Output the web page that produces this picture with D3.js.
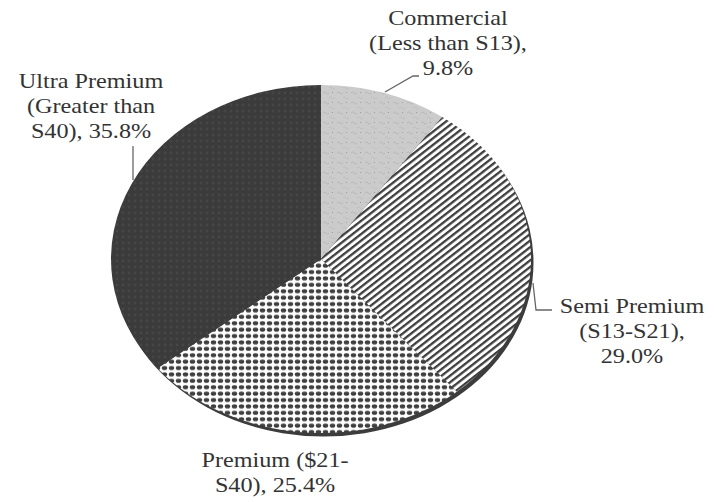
<!DOCTYPE html>
<html><head><meta charset="utf-8">
<script src="https://cdn.jsdelivr.net/npm/d3@7"></script>
<style>html,body{margin:0;padding:0;background:#fff;}svg{display:block;}</style>
</head><body>
<svg id="chart" width="714" height="502"></svg>
<script>
const categories = ["Commercial", "Semi Premium", "Premium", "Ultra Premium"];
const values = [9.8, 29.0, 25.4, 35.8];
const labelLines = [
  ["Commercial", "(Less than S13),", "9.8%"],
  ["Semi Premium", "(S13-S21),", "29.0%"],
  ["Premium ($21-", "S40), 25.4%"],
  ["Ultra Premium", "(Greater than", "S40), 35.8%"]
];

const svg = d3.select("#chart");
const defs = svg.append("defs");

// patterns
const pComm = defs.append("pattern").attr("id","pComm").attr("patternUnits","userSpaceOnUse").attr("width",14).attr("height",10);
pComm.append("rect").attr("width",14).attr("height",10).attr("fill","#cbcbcb");
pComm.append("path").attr("d","M1,3 q1.5,-2 3,0 t3,0").attr("fill","none").attr("stroke","#b4b4b4").attr("stroke-width",0.9);
pComm.append("path").attr("d","M7,8 q1.5,-2 3,0 t3,0").attr("fill","none").attr("stroke","#bdbdbd").attr("stroke-width",0.9);
pComm.append("rect").attr("x",10).attr("y",2).attr("width",1).attr("height",1).attr("fill","#9a9a9a");

const pSemi = defs.append("pattern").attr("id","pSemi").attr("patternUnits","userSpaceOnUse")
  .attr("width",10).attr("height",5.2).attr("patternTransform","rotate(-38)");
pSemi.append("rect").attr("width",10).attr("height",5.2).attr("fill","#fff");
pSemi.append("rect").attr("y",0).attr("width",10).attr("height",2.3).attr("fill","#3e3e3e");

const pPrem = defs.append("pattern").attr("id","pPrem").attr("patternUnits","userSpaceOnUse").attr("width",7).attr("height",6.4);
pPrem.append("rect").attr("width",7).attr("height",6.4).attr("fill","#fff");
pPrem.append("ellipse").attr("cx",3.5).attr("cy",3.2).attr("rx",2.7).attr("ry",2.1).attr("fill","#3f3f3f");

const pUltra = defs.append("pattern").attr("id","pUltra").attr("patternUnits","userSpaceOnUse").attr("width",6).attr("height",6);
pUltra.append("rect").attr("width",6).attr("height",6).attr("fill","#3b3b3b");
pUltra.append("circle").attr("cx",3).attr("cy",3).attr("r",1.4).attr("fill","#464646");

const fills = ["url(#pComm)","url(#pSemi)","url(#pPrem)","url(#pUltra)"];

const cx = 321, cy = 259, rx = 210, ry = 174;
const pie = d3.pie().sort(null).value(d => d)(values);
const pt = a => [cx + rx*Math.sin(a), cy - ry*Math.cos(a)];
function slicePath(d){
  const p0 = pt(d.startAngle), p1 = pt(d.endAngle);
  const large = (d.endAngle - d.startAngle) > Math.PI ? 1 : 0;
  return `M${cx},${cy}L${p0[0]},${p0[1]}A${rx},${ry} 0 ${large} 1 ${p1[0]},${p1[1]}Z`;
}

// depth / rim
svg.append("ellipse").attr("cx",cx+2.5).attr("cy",cy+3.5).attr("rx",rx).attr("ry",ry).attr("fill","#3c3c3c");

svg.append("g").selectAll("path").data(pie).join("path")
  .attr("d", slicePath)
  .attr("fill", (d,i) => fills[i]);

// leader lines
const leaders = [
  [[385,92],[413,76],[419,76]],
  [[533,283],[536,310],[552,310]],
  null,
  [[133,180],[133,146]]
];
svg.append("g").selectAll("path").data(leaders.filter(l => l)).join("path")
  .attr("d", d => d3.line()(d)).attr("fill","none").attr("stroke","#666").attr("stroke-width",1.3);

// labels
const labelPos = [[448,25],[632,313],[275,467],[91,88]];
const lg = svg.append("g").attr("font-family","'Liberation Serif', 'Times New Roman', serif")
  .attr("font-size",22).attr("fill","#333");
labelLines.forEach((lines,i) => {
  const g = lg.append("g").attr("transform",`translate(${labelPos[i][0]},${labelPos[i][1]}) scale(1.1,1)`);
  const t = g.append("text").attr("text-anchor","middle");
  lines.forEach((s,j) => t.append("tspan").attr("x",0).attr("y",j*25).text(s));
});
</script>
</body></html>
